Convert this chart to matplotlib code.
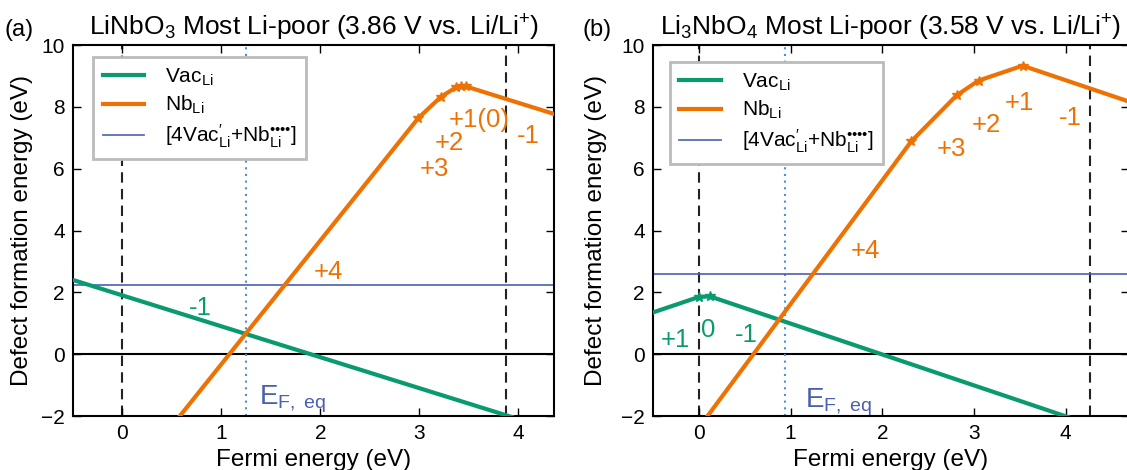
import matplotlib
matplotlib.use("Agg")
import matplotlib.pyplot as plt

plt.rcParams['font.family'] = ['Liberation Sans', 'DejaVu Sans']
plt.rcParams['mathtext.fontset'] = 'custom'
plt.rcParams['mathtext.rm'] = 'Liberation Sans'
plt.rcParams['mathtext.it'] = 'Liberation Sans:italic'
plt.rcParams['mathtext.bf'] = 'Liberation Sans:bold'

# ---------------- data ----------------
# Panel (a): LiNbO3, most Li-poor
a_vac_x = [-0.6, 4.5]
a_vac_y = [2.50, -2.60]
a_nb_x = [0.40, 2.99, 3.22, 3.37, 3.42, 3.47, 4.50]
a_nb_y = [-2.72, 7.64, 8.33, 8.63, 8.66, 8.66, 7.63]
a_complex = 2.25
a_ef_eq = 1.25
a_vbm, a_cbm = 0.0, 3.88

# Panel (b): Li3NbO4, most Li-poor
b_vac_x = [-0.6, 0.00, 0.12, 4.20]
b_vac_y = [1.25, 1.85, 1.87, -2.21]
b_nb_x = [-0.10, 2.315, 2.81, 3.05, 3.53, 4.80]
b_nb_y = [-2.78, 6.88, 8.37, 8.85, 9.33, 8.06]
b_complex = 2.60
b_ef_eq = 0.94
b_vbm, b_cbm = 0.0, 4.26

xticks = [0, 1, 2, 3, 4]
yticks = [-2, 0, 2, 4, 6, 8, 10]

titles = [r"LiNbO$_3$ Most Li-poor (3.86 V vs. Li/Li$^{+}$)",
          r"Li$_3$NbO$_4$ Most Li-poor (3.58 V vs. Li/Li$^{+}$)"]
panel_tags = ["(a)", "(b)"]

a_vac_labels = [("-1", 0.79, 1.50)]
a_nb_labels = [("+4", 2.08, 2.67), ("+3", 3.15, 5.99), ("+2", 3.30, 6.82),
               ("+1(0)", 3.60, 7.57), ("-1", 4.10, 7.05)]
b_vac_labels = [("+1", -0.26, 0.45), ("0", 0.10, 0.78), ("-1", 0.52, 0.61)]
b_nb_labels = [("+4", 1.82, 3.34), ("+3", 2.75, 6.62), ("+2", 3.13, 7.41),
               ("+1", 3.50, 8.11), ("-1", 4.05, 7.63)]

GREEN = "#0a9a70"
ORANGE = "#ee7203"
BLUE = "#4a5fb0"
DOT = "#4a8fd8"

fig = plt.figure(figsize=(11.27, 4.70), dpi=100)
ax_a = fig.add_axes([73/1127, 54/470, 481/1127, 371/470])
ax_b = fig.add_axes([653/1127, 54/470, 476/1127, 371/470])

panels = [
    dict(ax=ax_a, vx=a_vac_x, vy=a_vac_y, nx=a_nb_x, ny=a_nb_y, cx=a_complex,
         ef=a_ef_eq, vbm=a_vbm, cbm=a_cbm, xlim=(-0.5, 4.36),
         vl=a_vac_labels, nl=a_nb_labels, eft=(1.38, -1.45),
         leg=(0.042, 0.968), ylab_x=-0.083, tag_x=5),
    dict(ax=ax_b, vx=b_vac_x, vy=b_vac_y, nx=b_nb_x, ny=b_nb_y, cx=b_complex,
         ef=b_ef_eq, vbm=b_vbm, cbm=b_cbm, xlim=(-0.5, 4.69),
         vl=b_vac_labels, nl=b_nb_labels, eft=(1.16, -1.55),
         leg=(0.035, 0.954), ylab_x=-0.097, tag_x=583),
]

complex_label = r"[4Vac$^{\mathregular{′}}_{\mathregular{Li}}$+Nb$^{\mathregular{••••}}_{\mathregular{Li}}$]"

for i, p in enumerate(panels):
    ax = p['ax']
    ax.axhline(0, color='black', lw=1.5, zorder=1)
    ax.axvline(p['vbm'], color='#222222', lw=1.5, ls=(0, (5, 3)), zorder=1)
    ax.axvline(p['cbm'], color='#222222', lw=1.5, ls=(0, (5, 3)), zorder=1)
    ax.axvline(p['ef'], color=DOT, lw=1.5, ls=(0, (1, 2.2)), zorder=1)
    ax.plot(p['vx'], p['vy'], color=GREEN, lw=3, marker='*', ms=7,
            markevery=slice(1, len(p['vx']) - 1), label=r"Vac$_{\mathregular{Li}}$", zorder=3)
    ax.plot(p['nx'], p['ny'], color=ORANGE, lw=3, marker='*', ms=7,
            markevery=slice(1, len(p['nx']) - 1), label=r"Nb$_{\mathregular{Li}}$", zorder=3)
    ax.axhline(p['cx'], color=BLUE, lw=1.2, label=complex_label, zorder=2)
    for t, x, y in p['vl']:
        ax.text(x, y, t, color=GREEN, fontsize=18.5, ha='center', va='center')
    for t, x, y in p['nl']:
        ax.text(x, y, t, color=ORANGE, fontsize=18.5, ha='center', va='center')
    ax.text(p['eft'][0], p['eft'][1], r"E$_{\mathregular{F,\ eq}}$", color=BLUE,
            fontsize=20, ha='left', va='center')

    ax.set_xlim(*p['xlim'])
    ax.set_ylim(-2, 10)
    ax.set_xticks(xticks)
    ax.set_yticks(yticks)
    ax.tick_params(direction='in', top=True, right=True, length=6, width=1,
                   labelsize=15, pad=6)
    for s in ax.spines.values():
        s.set_linewidth(1.5)
    ax.set_xlabel("Fermi energy (eV)", fontsize=17.5)
    ax.xaxis.set_label_coords(0.5, -0.09)
    ax.set_ylabel("Defect formation energy (eV)", fontsize=17.5)
    ax.yaxis.set_label_coords(p['ylab_x'], 0.5)
    ax.set_title(titles[i], fontsize=19, pad=7)
    fig.text(p['tag_x']/1127, (470-36)/470, panel_tags[i], fontsize=17,
             ha='left', va='baseline')

    leg = ax.legend(loc='upper left', bbox_to_anchor=p['leg'], fontsize=15,
                    frameon=True, fancybox=False, framealpha=1,
                    edgecolor='#bbbbbb', handlelength=2.0, handletextpad=1.0,
                    borderpad=0.45, labelspacing=0.3, borderaxespad=0)
    leg.get_frame().set_linewidth(2)
    for line in leg.get_lines():
        line.set_marker('')

fig.savefig("out.png", dpi=100)
